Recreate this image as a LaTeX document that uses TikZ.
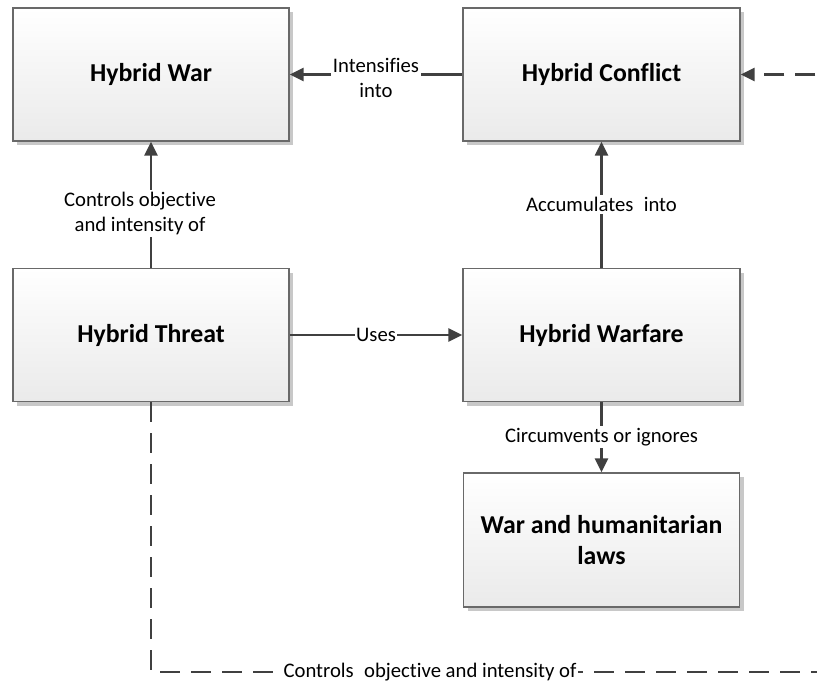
\documentclass[tikz,border=0pt]{standalone}
\usepackage{fontspec}
\setmainfont{Carlito}[Ligatures=NoCommon]
\usetikzlibrary{arrows.meta,shadows}
\definecolor{linec}{RGB}{64,64,64}
\definecolor{boxborder}{RGB}{105,105,105}
\definecolor{boxbottom}{RGB}{234,234,234}
\definecolor{shadowc}{RGB}{200,200,200}
\tikzset{
  box/.style={draw=boxborder, line width=1.3pt, top color=white, bottom color=boxbottom,
    minimum width=276pt, minimum height=133pt, inner sep=0pt, align=center,
    font=\fontsize{25.8}{31}\selectfont\bfseries,
    drop shadow={shadow xshift=4pt, shadow yshift=-4pt, fill=shadowc, opacity=1}},
  conn/.style={draw=linec, line width=2.3pt, -{Triangle[length=14pt,width=13pt]}},
  dconn/.style={conn, dash pattern=on 20pt off 11pt},
  lbl/.style={fill=white, inner sep=2pt, align=center, text=black,
    font=\fontsize{20.7}{25}\selectfont}
}
\begin{document}
\begin{tikzpicture}[x=1pt,y=-1pt]
\useasboundingbox (0,0) rectangle (817,682);
\clip (0,0) rectangle (817,682);
\node[box] (war) at (151,74.5) {Hybrid War};
\node[box, minimum width=277pt] (conflict) at (601.5,74.5) {Hybrid Conflict};
\node[box] (threat) at (151,335) {Hybrid Threat};
\node[box, minimum width=277pt] (warfare) at (601.5,335) {Hybrid Warfare};
\node[box, minimum height=134pt] (laws) at (601.5,540) {War and humanitarian\\laws};
\coordinate (bl) at (151,672);
\coordinate (br) at (840,672);
\coordinate (tr) at (840,74.5);

\draw[conn] (conflict.west) -- node[lbl, yshift=-3pt] {Intensifies\\into} (war.east);
\draw[conn] (threat.north) -- node[lbl, xshift=-11pt, yshift=-9pt] {Controls objective\\and intensity of} (war.south);
\draw[conn] (warfare.north) -- node[lbl] {Accumulates\enspace into} (conflict.south);
\draw[conn] (threat.east) -- node[lbl, inner xsep=1pt] {Uses} (warfare.west);
\draw[conn] (warfare.south) -- node[lbl] {Circumvents or ignores} (laws.north);
\draw[dconn] (threat.south) -- (bl) -- node[lbl, pos=0.405, inner xsep=1pt] {Controls\enspace objective and intensity of} (br) -- (tr) -- (conflict.east);
\end{tikzpicture}
\end{document}
